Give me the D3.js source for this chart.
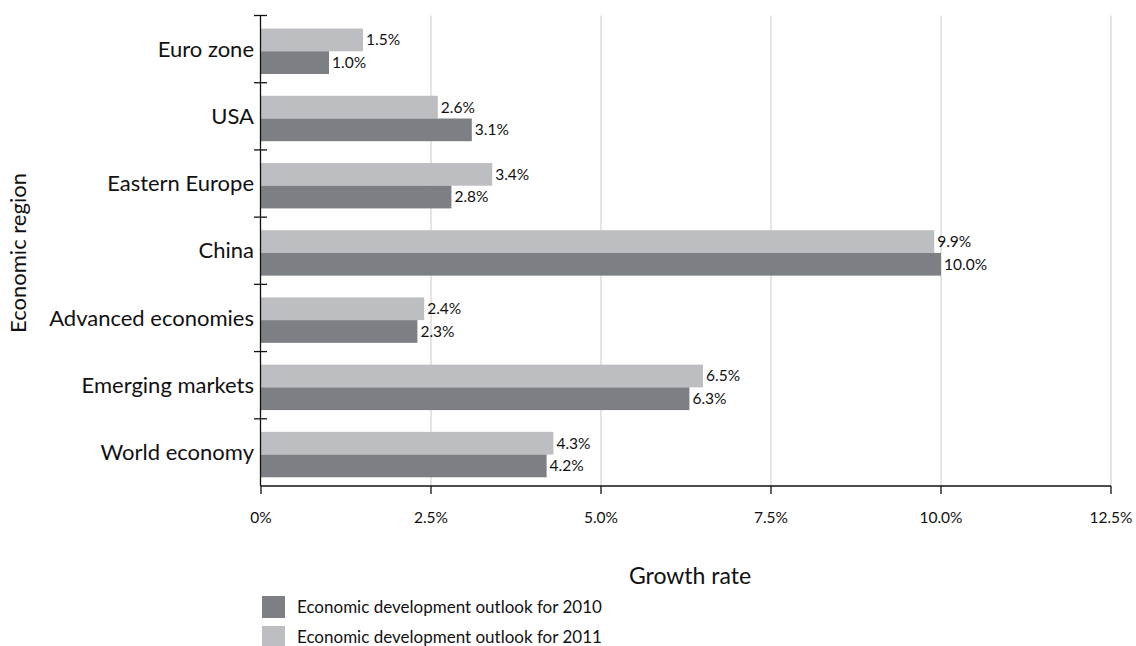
<!DOCTYPE html>
<html>
<head>
<meta charset="utf-8">
<script src="https://cdn.jsdelivr.net/npm/d3@7"></script>
<style>
  html, body { margin: 0; padding: 0; background: #fff; }
  svg text { font-family: "Lato", "Open Sans", sans-serif; fill: #111; }
</style>
</head>
<body>
<svg id="chart" width="1136" height="646"></svg>
<script>
// Economic growth outlook by region (percent)
const regions = ["Euro zone", "USA", "Eastern Europe", "China", "Advanced economies", "Emerging markets", "World economy"];
const outlook2010 = [1.0, 3.1, 2.8, 10.0, 2.3, 6.3, 4.2];
const outlook2011 = [1.5, 2.6, 3.4, 9.9, 2.4, 6.5, 4.3];
const xTicks = [0, 2.5, 5, 7.5, 10, 12.5];
const seriesNames = ["Economic development outlook for 2010", "Economic development outlook for 2011"];
const colors = { y2010: "#7c8084", y2011: "#bdbec1" };

const svg = d3.select("#chart");
const x0 = 261, x1 = 1111, yTop = 15.5, yBot = 486;

const x = d3.scaleLinear().domain([0, 12.5]).range([x0, x1]);
const y = d3.scaleBand().domain(regions).range([yTop, yBot]).padding(0);
const sub = d3.scaleBand().domain(["2011", "2010"]).range([0, y.bandwidth()])
  .paddingInner(0).paddingOuter(0.48).align(0.6);

const fmtTick = v => v === 0 ? "0%" : d3.format(".1f")(v) + "%";
const fmtVal = v => d3.format(".1f")(v) + "%";

// vertical gridlines
svg.append("g").selectAll("line").data(xTicks.filter(v => v > 0)).join("line")
  .attr("x1", d => x(d)).attr("x2", d => x(d))
  .attr("y1", yTop).attr("y2", yBot)
  .attr("stroke", "#dddddd").attr("stroke-width", 1.5);

// bars
const rows = regions.map((r, i) => ({ region: r, v2010: outlook2010[i], v2011: outlook2011[i] }));
const groups = svg.append("g").selectAll("g").data(rows).join("g")
  .attr("transform", d => `translate(0,${y(d.region)})`);

const pairs = d => [
  { key: "2011", value: d.v2011, color: colors.y2011 },
  { key: "2010", value: d.v2010, color: colors.y2010 }
];

groups.selectAll("rect").data(pairs).join("rect")
  .attr("x", x(0))
  .attr("y", d => sub(d.key))
  .attr("width", d => x(d.value) - x(0))
  .attr("height", sub.bandwidth())
  .attr("fill", d => d.color);

groups.selectAll("text.val").data(pairs).join("text")
  .attr("class", "val")
  .attr("x", d => x(d.value) + 3)
  .attr("y", d => sub(d.key) + sub.bandwidth() / 2)
  .attr("dy", "0.35em")
  .attr("font-size", 15.5)
  .text(d => fmtVal(d.value));

// y axis
svg.append("line").attr("x1", 260.5).attr("x2", 260.5).attr("y1", yTop).attr("y2", yBot)
  .attr("stroke", "#111").attr("stroke-width", 1.3);
const bounds = regions.map(r => y(r));
svg.append("g").selectAll("line").data(bounds).join("line")
  .attr("x1", 254).attr("x2", 267)
  .attr("y1", d => d).attr("y2", d => d)
  .attr("stroke", "#111").attr("stroke-width", 1.3);
svg.append("g").selectAll("text").data(regions).join("text")
  .attr("x", 254)
  .attr("y", d => y(d) + y.bandwidth() / 2)
  .attr("dy", "0.35em")
  .attr("text-anchor", "end")
  .attr("font-size", 22)
  .text(d => d);

// x axis
const xAxis = svg.append("g");
xAxis.append("line").attr("x1", x0).attr("x2", x1).attr("y1", yBot).attr("y2", yBot)
  .attr("stroke", "#111").attr("stroke-width", 1.3);
xAxis.selectAll("line.tick").data(xTicks).join("line")
  .attr("class", "tick")
  .attr("x1", d => x(d)).attr("x2", d => x(d))
  .attr("y1", yBot).attr("y2", yBot + 8)
  .attr("stroke", "#111").attr("stroke-width", 1.3);
xAxis.selectAll("text").data(xTicks).join("text")
  .attr("x", d => x(d))
  .attr("y", 518)
  .attr("dy", "0.35em")
  .attr("text-anchor", "middle")
  .attr("font-size", 15.5)
  .text(fmtTick);

// axis titles
svg.append("text")
  .attr("x", 690).attr("y", 584)
  .attr("text-anchor", "middle")
  .attr("font-size", 23)
  .text("Growth rate");
svg.append("text")
  .attr("transform", "translate(26,253) rotate(-90)")
  .attr("text-anchor", "middle")
  .attr("font-size", 22)
  .text("Economic region");

// legend
const legend = svg.append("g").selectAll("g")
  .data([{ name: seriesNames[0], color: colors.y2010 }, { name: seriesNames[1], color: colors.y2011 }])
  .join("g")
  .attr("transform", (d, i) => `translate(262,${596 + i * 30})`);
legend.append("rect").attr("width", 23).attr("height", 22).attr("fill", d => d.color);
legend.append("text").attr("x", 35).attr("y", 11).attr("dy", "0.35em")
  .attr("font-size", 17).text(d => d.name);
</script>
</body>
</html>
